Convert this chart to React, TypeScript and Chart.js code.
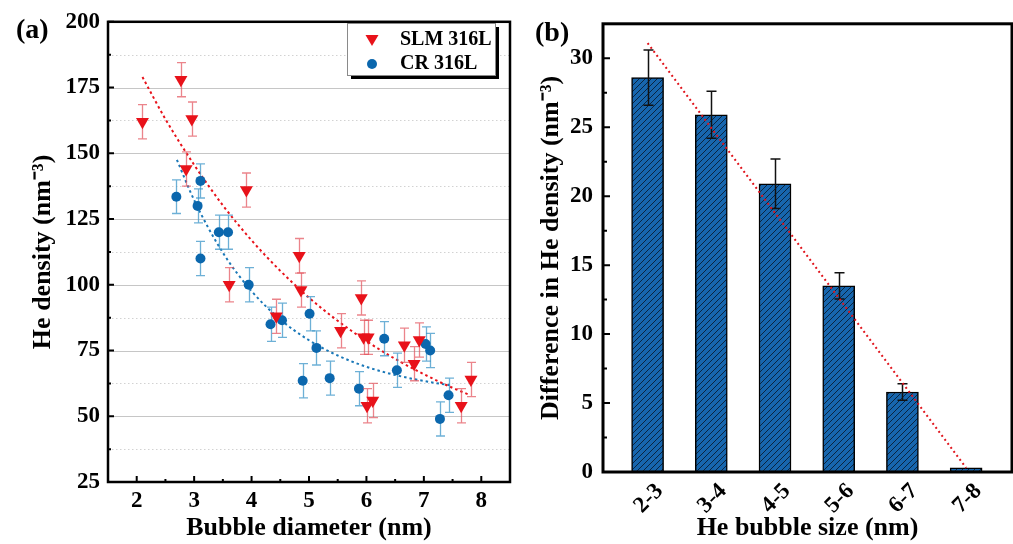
import { useEffect, useRef } from 'react';
import { Chart, registerables } from 'chart.js';

Chart.register(...registerables);

const SERIF = "'Liberation Serif', 'Times New Roman', serif";

// ---- Panel (a): He density against bubble diameter ----
const slmDiameter = [2.1, 2.77, 2.86, 2.96, 3.61, 3.91, 4.43, 4.83, 4.86, 5.55, 5.91, 5.95, 6.01, 6.03, 6.11, 6.66, 6.83, 6.92, 7.65, 7.82];
const slmDensity = [162, 178, 144, 163, 100, 136, 88, 111, 98, 82.5, 95, 80, 54, 80, 56, 77, 70, 79, 54, 64];
const slmError = [6.5, 6.5, 6.5, 6.5, 6.5, 6.5, 6.5, 6.6, 6.5, 6.5, 6.5, 6.5, 6.5, 6.5, 6.5, 6.5, 6.5, 6.5, 6.5, 6.5];

const crDiameter = [2.69, 3.06, 3.11, 3.11, 3.43, 3.59, 3.95, 4.33, 4.53, 4.89, 5.01, 5.13, 5.36, 5.87, 6.31, 6.53, 7.03, 7.11, 7.28, 7.43];
const crDensity = [133.5, 130, 139.5, 110, 120, 120, 100, 85, 86.5, 63.5, 89, 76, 64.5, 60.5, 79.5, 67.5, 77.5, 75, 49, 58];
const crError = [6.4, 6.5, 6.5, 6.5, 6.5, 6.5, 6.5, 6.5, 6.5, 6.5, 6.5, 6.5, 6.5, 6.5, 6.5, 6.5, 6.5, 6.5, 6.5, 6.5];

// dotted decay fits through each series
const slmFitX = [2.1, 2.5, 3.0, 3.5, 4.0, 4.5, 5.0, 5.5, 6.0, 6.5, 7.0, 7.5, 7.8];
const slmFitY = [179, 163, 145.6, 130.2, 116.9, 105.3, 95.1, 86.3, 78.6, 71.8, 66.0, 60.8, 58.1];
const crFitX = [2.7, 3.0, 3.5, 4.0, 4.5, 5.0, 5.5, 6.0, 6.5, 7.0, 7.45];
const crFitY = [147.5, 132.2, 112.2, 97.6, 86.8, 78.9, 73.1, 68.8, 65.7, 63.4, 61.8];

const diameterTicks = [2, 3, 4, 5, 6, 7, 8];
const diameterMinor = [2.5, 3.5, 4.5, 5.5, 6.5, 7.5];
const densityTicks = [25, 50, 75, 100, 125, 150, 175, 200];
const densityMinor = [37.5, 62.5, 87.5, 112.5, 137.5, 162.5, 187.5];

// ---- Panel (b): difference in He density per bubble size bin ----
const sizeLabels = ['2-3', '3-4', '4-5', '5-6', '6-7', '7-8'];
const densityDiff = [28.6, 25.9, 20.9, 13.5, 5.8, 0.3];
const densityDiffError = [2.0, 1.7, 1.8, 0.95, 0.6, 0];
const trendX = [0, 5];
const trendY = [31.1, 0.3];
const diffTicks = [0, 5, 10, 15, 20, 25, 30];
const diffMinor = [2.5, 7.5, 12.5, 17.5, 22.5, 27.5];

const RED = '#e8121a';
const BLUE = '#0b67ad';

const tickFont = { family: SERIF, size: 23, weight: 'bold' as const };
const titleFont = { family: SERIF, size: 26, weight: 'bold' as const };

function drawErrorBars(chart: any, index: number, behind: boolean) {
  const ds: any = chart.data.datasets[index];
  const eb = ds.errorBars;
  if (!eb || !!eb.behind !== behind) return;
  const meta = chart.getDatasetMeta(index);
  const yScale = chart.scales[meta.yAxisID];
  const ctx = chart.ctx;
  ctx.save();
  ctx.strokeStyle = eb.color;
  ctx.lineWidth = eb.width;
  meta.data.forEach((el: any, i: number) => {
    const err = eb.values[i];
    if (!err) return;
    const raw = ds.data[i];
    const v = typeof raw === 'number' ? raw : raw.y;
    const x = Math.round(el.x) + 0.5;
    const top = yScale.getPixelForValue(v + err);
    const bot = yScale.getPixelForValue(v - err);
    ctx.beginPath();
    ctx.moveTo(x, top);
    ctx.lineTo(x, bot);
    ctx.moveTo(x - eb.cap / 2, top);
    ctx.lineTo(x + eb.cap / 2, top);
    ctx.moveTo(x - eb.cap / 2, bot);
    ctx.lineTo(x + eb.cap / 2, bot);
    ctx.stroke();
  });
  ctx.restore();
}

const errorBarPlugin = {
  id: 'errorBars',
  beforeDatasetDraw(chart: any, args: any) {
    drawErrorBars(chart, args.index, true);
  },
  afterDatasetDraw(chart: any, args: any) {
    drawErrorBars(chart, args.index, false);
  },
};

// box around the plot area with inward major/minor ticks
const framePlugin = {
  id: 'frame',
  afterDatasetsDraw(chart: any, _args: any, opts: any) {
    const { ctx, chartArea: a, scales } = chart;
    ctx.save();
    ctx.strokeStyle = '#000';
    ctx.lineWidth = 2;
    ctx.beginPath();
    const y = scales.y;
    y.ticks.forEach((t: any) => {
      const p = y.getPixelForValue(t.value);
      ctx.moveTo(a.left, p);
      ctx.lineTo(a.left + opts.majorLen, p);
    });
    opts.yMinor.forEach((v: number) => {
      const p = y.getPixelForValue(v);
      ctx.moveTo(a.left, p);
      ctx.lineTo(a.left + opts.minorLen, p);
    });
    if (opts.xTicks) {
      const x = scales.x;
      x.ticks.forEach((t: any) => {
        const p = x.getPixelForValue(t.value);
        ctx.moveTo(p, a.bottom);
        ctx.lineTo(p, a.bottom - opts.majorLen);
      });
      opts.xMinor.forEach((v: number) => {
        const p = x.getPixelForValue(v);
        ctx.moveTo(p, a.bottom);
        ctx.lineTo(p, a.bottom - opts.minorLen);
      });
    }
    ctx.stroke();
    ctx.lineWidth = opts.lineWidth;
    ctx.strokeRect(a.left, a.top, a.right - a.left, a.bottom - a.top);
    ctx.restore();
  },
};

// horizontal grid: solid at labelled values, dotted in between
const gridPlugin = {
  id: 'hgrid',
  beforeDatasetsDraw(chart: any, _args: any, opts: any) {
    if (!opts.major) return;
    const { ctx, chartArea: a, scales } = chart;
    const y = scales.y;
    ctx.save();
    ctx.lineWidth = 1;
    ctx.strokeStyle = '#c6c6c6';
    ctx.beginPath();
    opts.major.forEach((v: number) => {
      const p = Math.round(y.getPixelForValue(v)) + 0.5;
      ctx.moveTo(a.left, p);
      ctx.lineTo(a.right, p);
    });
    ctx.stroke();
    ctx.strokeStyle = '#d2d2d2';
    ctx.setLineDash([1.5, 2.5]);
    ctx.beginPath();
    opts.minor.forEach((v: number) => {
      const p = Math.round(y.getPixelForValue(v)) + 0.5;
      ctx.moveTo(a.left, p);
      ctx.lineTo(a.right, p);
    });
    ctx.stroke();
    ctx.restore();
  },
};

const panelLabelPlugin = {
  id: 'panelLabel',
  afterDraw(chart: any, _args: any, opts: any) {
    if (!opts.text) return;
    const ctx = chart.ctx;
    ctx.save();
    ctx.font = `bold 28px ${SERIF}`;
    ctx.fillStyle = '#000';
    ctx.textAlign = 'left';
    ctx.textBaseline = 'alphabetic';
    ctx.fillText(opts.text, opts.x, opts.y);
    ctx.restore();
  },
};

// framed legend with a drop shadow inside the plot area
const boxLegendPlugin = {
  id: 'boxLegend',
  afterDraw(chart: any, _args: any, opts: any) {
    if (!opts.items) return;
    const ctx = chart.ctx;
    const { x, y, w, h } = opts;
    ctx.save();
    ctx.fillStyle = '#000';
    ctx.fillRect(x + 4, y + 4, w, h);
    ctx.fillStyle = '#fff';
    ctx.fillRect(x, y, w, h);
    ctx.strokeStyle = '#8a8a8a';
    ctx.lineWidth = 1;
    ctx.strokeRect(x + 0.5, y + 0.5, w, h);
    ctx.font = `bold 20px ${SERIF}`;
    ctx.textBaseline = 'middle';
    ctx.textAlign = 'left';
    opts.items.forEach((it: any, i: number) => {
      const cy = y + 17 + i * 24;
      const cx = x + 25;
      ctx.fillStyle = it.color;
      ctx.beginPath();
      if (it.shape === 'triangle') {
        ctx.moveTo(cx - 6.5, cy - 5);
        ctx.lineTo(cx + 6.5, cy - 5);
        ctx.lineTo(cx, cy + 6);
        ctx.closePath();
      } else {
        ctx.arc(cx, cy, 5, 0, Math.PI * 2);
      }
      ctx.fill();
      ctx.fillStyle = '#000';
      ctx.fillText(it.label, x + 53, cy);
    });
    ctx.restore();
  },
};

function makeHatch(): CanvasPattern | string {
  const tile = document.createElement('canvas');
  const s = 6;
  tile.width = s;
  tile.height = s;
  const t = tile.getContext('2d');
  if (!t) return '#1766ae';
  t.fillStyle = '#1766ae';
  t.fillRect(0, 0, s, s);
  t.strokeStyle = '#0a2540';
  t.lineWidth = 1;
  t.beginPath();
  t.moveTo(-1, s + 1);
  t.lineTo(s + 1, -1);
  t.moveTo(-1, 1);
  t.lineTo(1, -1);
  t.moveTo(s - 1, s + 1);
  t.lineTo(s + 1, s - 1);
  t.stroke();
  return t.createPattern(tile, 'repeat') || '#1766ae';
}

function DensityPanel() {
  const ref = useRef<HTMLCanvasElement>(null);
  useEffect(() => {
    if (!ref.current) return;
    const chart = new Chart(ref.current, {
      type: 'scatter',
      data: {
        datasets: [
          {
            label: 'SLM 316L',
            data: slmDiameter.map((x, i) => ({ x, y: slmDensity[i] })),
            pointStyle: 'triangle',
            rotation: 180,
            pointRadius: 7.5,
            backgroundColor: RED,
            borderColor: RED,
            borderWidth: 0,
            order: 1,
            errorBars: { values: slmError, color: 'rgba(226,80,90,0.7)', width: 1.3, cap: 9, behind: true },
          } as any,
          {
            label: 'CR 316L',
            data: crDiameter.map((x, i) => ({ x, y: crDensity[i] })),
            pointStyle: 'circle',
            pointRadius: 5,
            backgroundColor: BLUE,
            borderColor: BLUE,
            borderWidth: 0,
            order: 1,
            errorBars: { values: crError, color: 'rgba(60,150,200,0.75)', width: 1.3, cap: 9, behind: true },
          } as any,
          {
            type: 'line',
            label: 'SLM fit',
            data: slmFitX.map((x, i) => ({ x, y: slmFitY[i] })),
            borderColor: RED,
            borderWidth: 2,
            borderDash: [2.5, 3],
            pointRadius: 0,
            cubicInterpolationMode: 'monotone',
            order: 2,
          } as any,
          {
            type: 'line',
            label: 'CR fit',
            data: crFitX.map((x, i) => ({ x, y: crFitY[i] })),
            borderColor: '#1a78b8',
            borderWidth: 2,
            borderDash: [2.5, 3],
            pointRadius: 0,
            cubicInterpolationMode: 'monotone',
            order: 2,
          } as any,
        ],
      },
      options: {
        animation: false,
        responsive: false,
        devicePixelRatio: 1,
        events: [],
        layout: { padding: { left: 0, right: 10, top: 18, bottom: 0 } },
        scales: {
          x: {
            type: 'linear',
            min: 1.5,
            max: 8.5,
            afterBuildTicks: (s: any) => {
              s.ticks = diameterTicks.map((v) => ({ value: v }));
            },
            afterFit: (s: any) => {
              s.height = 62;
            },
            grid: { display: false, drawTicks: false },
            border: { display: false },
            ticks: { font: tickFont, color: '#000', padding: 5, maxRotation: 0, autoSkip: false },
            title: {
              display: true,
              text: 'Bubble diameter (nm)',
              font: titleFont,
              color: '#000',
              padding: { top: 0, bottom: 0 },
            },
          },
          y: {
            type: 'linear',
            min: 25,
            max: 200,
            afterBuildTicks: (s: any) => {
              s.ticks = densityTicks.map((v) => ({ value: v }));
            },
            afterFit: (s: any) => {
              s.width = 108;
            },
            grid: { display: false, drawTicks: false },
            border: { display: false },
            ticks: { font: tickFont, color: '#000', padding: 8 },
            title: {
              display: true,
              text: 'He density (nm⁻³)',
              font: titleFont,
              color: '#000',
              padding: { top: 28, bottom: 0 },
            },
          },
        },
        plugins: {
          legend: { display: false },
          tooltip: { enabled: false },
          hgrid: { major: densityTicks, minor: densityMinor },
          frame: { lineWidth: 2.5, majorLen: 6, minorLen: 3, yMinor: densityMinor, xTicks: true, xMinor: diameterMinor },
          panelLabel: { text: '(a)', x: 16, y: 38 },
          boxLegend: {
            x: 347,
            y: 23,
            w: 148,
            h: 52,
            items: [
              { label: 'SLM 316L', color: RED, shape: 'triangle' },
              { label: 'CR 316L', color: BLUE, shape: 'circle' },
            ],
          },
        } as any,
      },
      plugins: [gridPlugin, errorBarPlugin, framePlugin, panelLabelPlugin, boxLegendPlugin],
    } as any);
    return () => chart.destroy();
  }, []);
  return <canvas ref={ref} width={520} height={544} style={{ position: 'absolute', left: 0, top: 0 }} />;
}

function DifferencePanel() {
  const ref = useRef<HTMLCanvasElement>(null);
  useEffect(() => {
    if (!ref.current) return;
    const hatch = makeHatch();
    const chart = new Chart(ref.current, {
      type: 'bar',
      data: {
        datasets: [
          {
            label: 'Difference',
            data: densityDiff.map((y, i) => ({ x: i, y })),
            backgroundColor: hatch,
            borderColor: '#000',
            borderWidth: 1.5,
            borderSkipped: false,
            barThickness: 32,
            order: 2,
            errorBars: { values: densityDiffError, color: '#111', width: 1.5, cap: 10, behind: false },
          } as any,
          {
            type: 'line',
            label: 'Trend',
            data: trendX.map((x, i) => ({ x, y: trendY[i] })),
            borderColor: '#e0141c',
            borderWidth: 2,
            borderDash: [2, 3],
            pointRadius: 0,
            order: 1,
          } as any,
        ],
      },
      options: {
        animation: false,
        responsive: false,
        devicePixelRatio: 1,
        events: [],
        layout: { padding: { left: 0, right: 1, top: 23, bottom: 0 } },
        scales: {
          x: {
            type: 'linear',
            min: -0.7,
            max: 5.72,
            offset: false,
            afterBuildTicks: (s: any) => {
              s.ticks = sizeLabels.map((_, i) => ({ value: i }));
            },
            afterFit: (s: any) => {
              s.height = 72;
            },
            grid: { display: false, drawTicks: false },
            border: { display: false },
            ticks: {
              font: tickFont,
              color: '#000',
              padding: 6,
              minRotation: 45,
              maxRotation: 45,
              labelOffset: 12,
              autoSkip: false,
              callback: (v: any) => sizeLabels[v] ?? '',
            },
            title: {
              display: true,
              text: 'He bubble size (nm)',
              font: titleFont,
              color: '#000',
              padding: { top: 0, bottom: 0 },
            },
          },
          y: {
            type: 'linear',
            min: 0,
            max: 32.5,
            afterBuildTicks: (s: any) => {
              s.ticks = diffTicks.map((v) => ({ value: v }));
            },
            afterFit: (s: any) => {
              s.width = 83;
            },
            grid: { display: false, drawTicks: false },
            border: { display: false },
            ticks: { font: tickFont, color: '#000', padding: 10 },
            title: {
              display: true,
              text: 'Difference in He density (nm⁻³)',
              font: titleFont,
              color: '#000',
              padding: { top: 16, bottom: 0 },
            },
          },
        },
        plugins: {
          legend: { display: false },
          tooltip: { enabled: false },
          frame: { lineWidth: 3, majorLen: 7, minorLen: 4, yMinor: diffMinor, xTicks: false, xMinor: [] },
          panelLabel: { text: '(b)', x: 15, y: 41 },
        } as any,
      },
      plugins: [errorBarPlugin, framePlugin, panelLabelPlugin],
    } as any);
    return () => chart.destroy();
  }, []);
  return <canvas ref={ref} width={493} height={544} style={{ position: 'absolute', left: 520, top: 0 }} />;
}

export default function App() {
  return (
    <div style={{ position: 'absolute', left: 0, top: 0, width: 1013, height: 544, background: '#fff', overflow: 'hidden' }}>
      <DensityPanel />
      <DifferencePanel />
    </div>
  );
}
